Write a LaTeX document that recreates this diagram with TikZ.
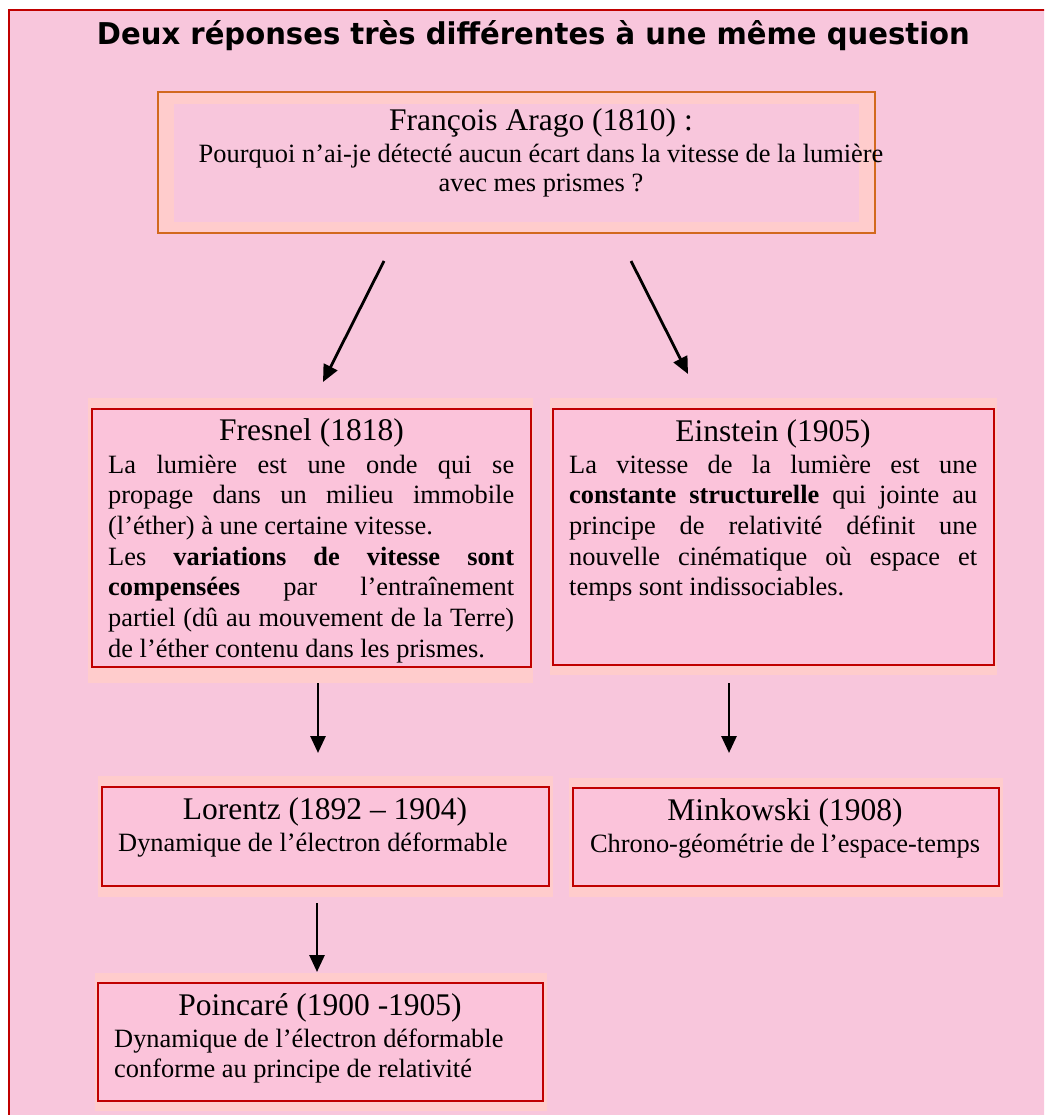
\documentclass[tikz,border=0pt]{standalone}
\usepackage{fontspec}
\setmainfont{Liberation Serif}
\newfontfamily\titlefont{DejaVu Sans}
\usetikzlibrary{arrows.meta}
\definecolor{bgpink}{HTML}{F8C6DC}
\definecolor{boxpink}{HTML}{FBC3DA}
\definecolor{halocol}{HTML}{FFCCCC}
\definecolor{framered}{HTML}{C00000}
\definecolor{argorange}{HTML}{D2691E}
\tikzset{
  halo/.style={fill=halocol},
  redbox/.style={draw=framered, line width=2pt, fill=boxpink, inner sep=0pt},
  arr/.style={line width=2.8pt, -{Triangle[length=17pt,width=15pt]}},
  headtxt/.style={font=\fontsize{31.5}{36}\selectfont, anchor=base, inner sep=0pt},
  bodytxt/.style={font=\fontsize{26.4}{30.7}\selectfont, anchor=base west, inner sep=0pt},
  bodyc/.style={font=\fontsize{26.4}{30.7}\selectfont, anchor=base, inner sep=0pt},
}
\begin{document}
\begin{tikzpicture}[x=1pt,y=-1pt]
\useasboundingbox (0,0) rectangle (1044,1115);
\fill[white] (0,0) rectangle (1044,1115);
\clip (0,0) rectangle (1044,1115);
% outer frame
\draw[framered, line width=2pt, fill=bgpink] (9,10) rectangle (1070,1140);
% title
\node[anchor=base, inner sep=0pt] (title) at (533.5,45)
  {\resizebox{873pt}{\height}{\titlefont\bfseries\fontsize{30}{34}\selectfont Deux réponses très différentes à une même question}};

% Arago box
\node[draw=argorange, line width=1.6pt, fill=halocol, minimum width=717pt, minimum height=141pt, inner sep=0pt] (arago) at (516.5,162.5) {};
\fill[bgpink] (174,104) rectangle (859,222);
\node[headtxt] (aragot) at (541,131) {François Arago (1810) :};
\node[bodyc] (aragob) at (541,163) {Pourquoi n’ai-je détecté aucun écart dans la vitesse de la lumière};
\node[bodyc] (aragoc) at (541,192) {avec mes prismes ?};

% Fresnel
\fill[halocol] (88,398) rectangle (533,683);
\node[redbox, minimum width=439pt, minimum height=258pt] (fresnel) at (311.5,538) {};
\node[headtxt] (fresnelt) at (311.5,440) {Fresnel (1818)};
\node[bodytxt] (fresnelb) at (108,473) {\parbox[t]{406pt}{%
\makebox[406pt][s]{La lumière est une onde qui se}\\
\makebox[406pt][s]{propage dans un milieu immobile}\\
(l’éther) à une certaine vitesse.\\
\makebox[406pt][s]{Les \textbf{variations de vitesse sont}}\\
\makebox[406pt][s]{\textbf{compensées} par l’entraînement}\\
\makebox[406pt][s]{partiel (dû au mouvement de la Terre)}\\
de l’éther contenu dans les prismes.}};

% Einstein
\fill[halocol] (550,398) rectangle (997,675);
\node[redbox, minimum width=441pt, minimum height=256pt] (einstein) at (773.5,537) {};
\node[headtxt] (einsteint) at (773,441) {Einstein (1905)};
\node[bodytxt] (einsteinb) at (569,473) {\parbox[t]{408pt}{%
\makebox[408pt][s]{La vitesse de la lumière est une}\\
\makebox[408pt][s]{\textbf{constante structurelle} qui jointe au}\\
\makebox[408pt][s]{principe de relativité définit une}\\
\makebox[408pt][s]{nouvelle cinématique où espace et}\\
temps sont indissociables.}};

% Lorentz
\fill[halocol] (98,776) rectangle (553,897);
\node[redbox, minimum width=447pt, minimum height=99pt] (lorentz) at (325.5,836.5) {};
\node[headtxt] (lorentzt) at (325,819) {Lorentz (1892 – 1904)};
\node[bodytxt] (lorentzb) at (118,851) {Dynamique de l’électron déformable};

% Minkowski
\fill[halocol] (569,778) rectangle (1003,897);
\node[redbox, minimum width=426pt, minimum height=98pt] (minkowski) at (786,837) {};
\node[headtxt] (minkowskit) at (785,820) {Minkowski (1908)};
\node[bodyc] (minkowskib) at (785,852) {Chrono-géométrie de l’espace-temps};

% Poincare
\fill[halocol] (95,973) rectangle (547,1111);
\node[redbox, minimum width=445pt, minimum height=118pt] (poincare) at (320.5,1042) {};
\node[headtxt] (poincaret) at (320,1015) {Poincaré (1900 -1905)};
\node[bodytxt] (poincareb) at (114,1047) {\parbox[t]{420pt}{%
Dynamique de l’électron déformable\\
conforme au principe de relativité}};

% arrows
\coordinate (a1s) at (384,261);
\coordinate (a1e) at (323,382);
\coordinate (a2s) at (631,261);
\coordinate (a2e) at (688,374);
\coordinate (a3s) at (318,683);
\coordinate (a3e) at (318,753);
\coordinate (a4s) at (729,683);
\coordinate (a4e) at (729,753);
\coordinate (a5s) at (317,903);
\coordinate (a5e) at (317,972);
\draw[arr] (a1s) -- (a1e);
\draw[arr] (a2s) -- (a2e);
\draw[arr] (a3s) -- (a3e);
\draw[arr] (a4s) -- (a4e);
\draw[arr] (a5s) -- (a5e);
\end{tikzpicture}
\end{document}
